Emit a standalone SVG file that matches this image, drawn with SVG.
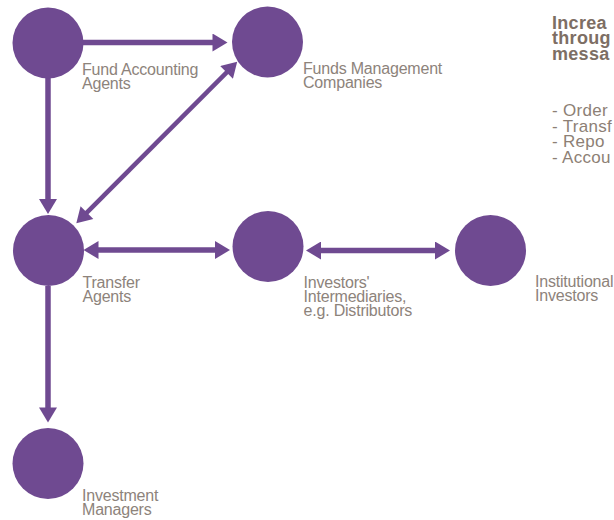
<svg xmlns="http://www.w3.org/2000/svg" width="614" height="520" viewBox="0 0 614 520">
  <style>
    .node { fill: #6f4a91; }
    .conn { stroke: #6f4a91; stroke-width: 5.5; fill: none; }
    .thin { stroke-width: 4.5; }
    .lbl { font-family: "Liberation Sans", Arial, sans-serif; font-size: 16px; fill: #8d837b; letter-spacing: -0.2px; }
    .title { font-family: "Liberation Sans", Arial, sans-serif; font-size: 18px; font-weight: bold; fill: #7d6e64; letter-spacing: 0.3px; }
    .item { font-family: "Liberation Sans", Arial, sans-serif; font-size: 17px; fill: #8d7f75; letter-spacing: 0.3px; }
  </style>
  <defs>
    <marker id="ah" markerUnits="userSpaceOnUse" markerWidth="16" markerHeight="18" viewBox="0 0 15 18" refX="3" refY="9" orient="auto-start-reverse">
      <path d="M0,0 L15,9 L0,18 z" fill="#6f4a91"/>
    </marker>
  </defs>
  <rect width="614" height="520" fill="#ffffff"/>

  <g id="connectors">
    <line class="conn" x1="83" y1="42.5" x2="215.5" y2="42.5" marker-end="url(#ah)"/>
    <line class="conn" x1="48" y1="78" x2="48" y2="202" marker-end="url(#ah)"/>
    <line class="conn thin" x1="228.7" y1="70.3" x2="84.8" y2="214.7" marker-start="url(#ah)" marker-end="url(#ah)"/>
    <line class="conn" x1="95.5" y1="250" x2="218" y2="250" marker-start="url(#ah)" marker-end="url(#ah)"/>
    <line class="conn" x1="318" y1="250.5" x2="438" y2="250.5" marker-start="url(#ah)" marker-end="url(#ah)"/>
    <line class="conn" x1="48" y1="286" x2="48" y2="410.5" marker-end="url(#ah)"/>
  </g>

  <g id="fund-accounting-agents">
    <circle class="node" cx="48" cy="43" r="35.5"/>
    <text class="lbl" x="82" y="75">Fund Accounting</text>
    <text class="lbl" x="82" y="89">Agents</text>
  </g>
  <g id="funds-management-companies">
    <circle class="node" cx="267.5" cy="42" r="35.5"/>
    <text class="lbl" x="303" y="73.5">Funds Management</text>
    <text class="lbl" x="303" y="87.5">Companies</text>
  </g>
  <g id="transfer-agents">
    <circle class="node" cx="48.5" cy="250.5" r="35.5"/>
    <text class="lbl" x="82.5" y="287.5">Transfer</text>
    <text class="lbl" x="82.5" y="301.5">Agents</text>
  </g>
  <g id="investors-intermediaries">
    <circle class="node" cx="268" cy="246.5" r="35.5"/>
    <text class="lbl" x="303.5" y="287.5">Investors'</text>
    <text class="lbl" x="303.5" y="301.5">Intermediaries,</text>
    <text class="lbl" x="303.5" y="315.5">e.g. Distributors</text>
  </g>
  <g id="institutional-investors">
    <circle class="node" cx="490.5" cy="250.5" r="35.5"/>
    <text class="lbl" x="535" y="287">Institutional</text>
    <text class="lbl" x="535" y="301">Investors</text>
  </g>
  <g id="investment-managers">
    <circle class="node" cx="48" cy="463.5" r="35.5"/>
    <text class="lbl" x="82" y="501">Investment</text>
    <text class="lbl" x="82" y="515">Managers</text>
  </g>

  <g id="side-note">
    <text class="title" x="552" y="28.5">Increa</text>
    <text class="title" x="552" y="44">throug</text>
    <text class="title" x="552" y="59.5">messa</text>
    <text class="item" x="552" y="116">- Order</text>
    <text class="item" x="552" y="131.5">- Transf</text>
    <text class="item" x="552" y="147">- Repo</text>
    <text class="item" x="552" y="162.5">- Accou</text>
  </g>
</svg>
